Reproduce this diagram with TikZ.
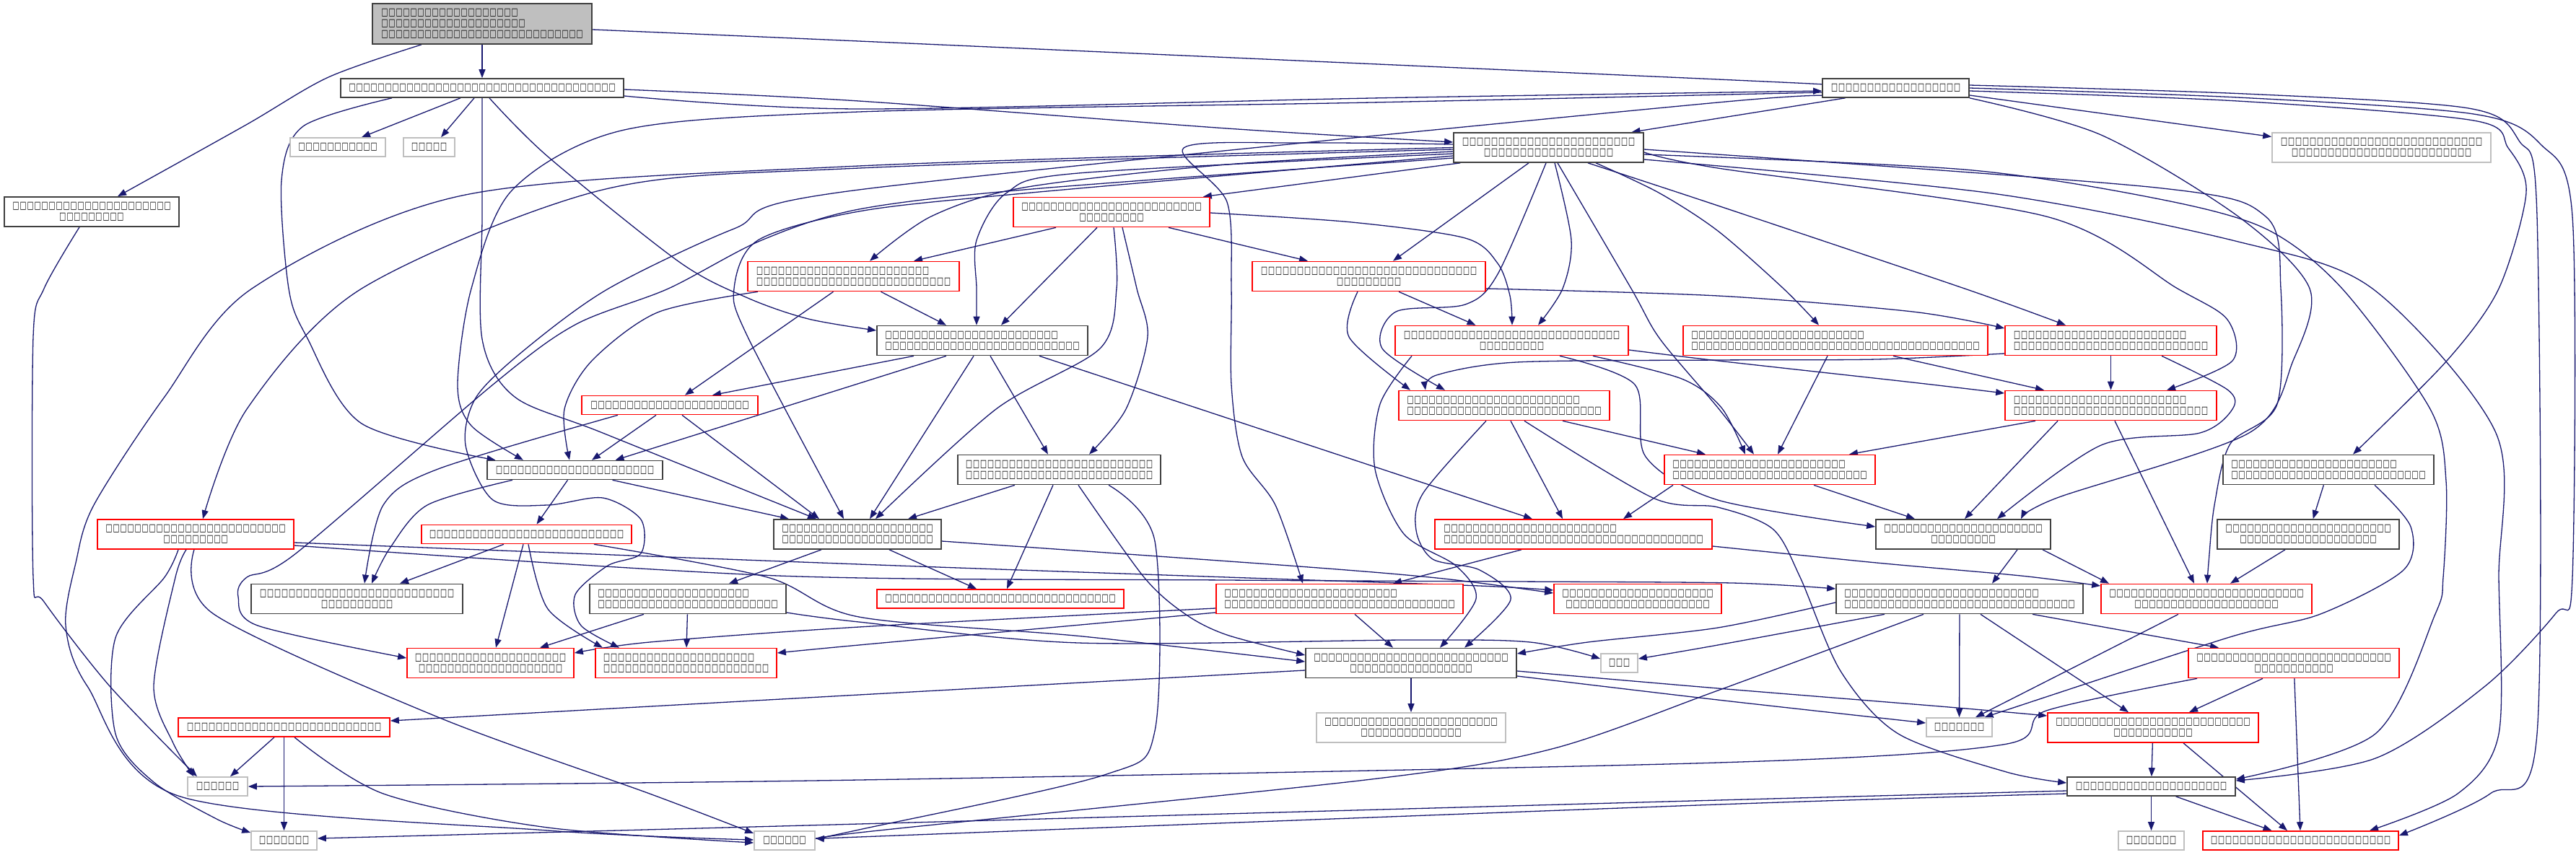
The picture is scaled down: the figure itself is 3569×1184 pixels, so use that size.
\documentclass[tikz,border=0pt]{standalone}
\usepackage{fontspec}
\usepackage{graphicx}
\newfontfamily\dv{DejaVu Sans}
\usetikzlibrary{arrows.meta}
\definecolor{eblue}{HTML}{191970}
\definecolor{gseven}{HTML}{BFBFBF}
\definecolor{gtwo}{HTML}{404040}
\newcommand\tb{\makebox[10pt][c]{\resizebox*{9pt}{11pt}{\dv\bfseries □}}}
\ExplSyntaxOn
\NewDocumentCommand\tofu{m}{\prg_replicate:nn{#1}{\tb}}
\ExplSyntaxOff
\pgfdeclarelayer{bg}
\pgfsetlayers{bg,main}
\tikzset{
 nbase/.style={rectangle, inner sep=0pt, fill=white, line width=1.7pt, font=\fontsize{11}{15}\selectfont},
 nb/.style={nbase, draw=gtwo},
 nr/.style={nbase, draw=red},
 ng/.style={nbase, draw=gseven},
 ntop/.style={nbase, draw=gtwo, fill=gseven},
 edg/.style={draw=eblue, line width=1.3pt, -{Triangle[length=12pt,width=9pt]}},
}
\newcommand\sed[2]{\draw[edg] (#1) -- (#2);}
\newcommand\ped[1]{\draw[edg] plot[smooth,tension=0.5] coordinates {#1};}
\begin{document}
\begin{tikzpicture}[x=1pt,y=-1pt]
\useasboundingbox (0,0) rectangle (3569,1184);
\node[ntop, minimum width=304, minimum height=56, align=left] (N0) at (668,33) {\tofu{19}\\\tofu{20}\\\tofu{28}};
\node[nb, minimum width=392, minimum height=26] (N1) at (668,122) {\tofu{37}};
\node[nb, minimum width=203, minimum height=26] (N2) at (2626.5,122) {\tofu{18}};
\node[nb, minimum width=242, minimum height=41, align=center] (N3) at (127,293.5) {\tofu{22}\\\tofu{9}};
\node[ng, minimum width=132, minimum height=26] (N4) at (468,204) {\tofu{11}};
\node[ng, minimum width=71, minimum height=26] (N5) at (594.5,204) {\tofu{5}};
\node[nb, minimum width=263, minimum height=41, align=center] (N6) at (2145.5,204.5) {\tofu{24}\\\tofu{18}};
\node[ng, minimum width=303, minimum height=41, align=center] (N7) at (3299.5,204.5) {\tofu{28}\\\tofu{25}};
\node[nr, minimum width=272, minimum height=41, align=center] (N8) at (1540,294) {\tofu{25}\\\tofu{9}};
\node[nr, minimum width=293, minimum height=41, align=left] (N9) at (1182.5,383) {\tofu{24}\\\tofu{27}};
\node[nr, minimum width=323, minimum height=41, align=center] (N10) at (1896.5,383) {\tofu{30}\\\tofu{9}};
\node[nb, minimum width=292, minimum height=41, align=left] (N11) at (1361,472) {\tofu{24}\\\tofu{27}};
\node[nr, minimum width=323, minimum height=41, align=center] (N12) at (2094.5,472) {\tofu{30}\\\tofu{9}};
\node[nr, minimum width=422, minimum height=41, align=left] (N13) at (2543,472) {\tofu{24}\\\tofu{40}};
\node[nr, minimum width=293, minimum height=41, align=left] (N14) at (2924.5,472) {\tofu{24}\\\tofu{27}};
\node[nr, minimum width=244, minimum height=26] (N15) at (928,561.5) {\tofu{22}};
\node[nr, minimum width=292, minimum height=41, align=left] (N20) at (2084,562) {\tofu{24}\\\tofu{27}};
\node[nr, minimum width=293, minimum height=41, align=left] (N24) at (2924.5,562) {\tofu{24}\\\tofu{27}};
\node[nb, minimum width=243, minimum height=26] (N16) at (796.5,651.5) {\tofu{22}};
\node[nb, minimum width=281, minimum height=41, align=center] (N21) at (1467.5,651) {\tofu{26}\\\tofu{26}};
\node[nr, minimum width=292, minimum height=41, align=left] (N23) at (2452,651) {\tofu{24}\\\tofu{27}};
\node[nb, minimum width=292, minimum height=41, align=left] (N26) at (3226,651) {\tofu{23}\\\tofu{27}};
\node[nr, minimum width=272, minimum height=41, align=center] (N17) at (271,740.5) {\tofu{25}\\\tofu{9}};
\node[nr, minimum width=291, minimum height=26] (N18) at (729.5,740.5) {\tofu{27}};
\node[nb, minimum width=232, minimum height=41, align=center] (N19) at (1188,740.5) {\tofu{21}\\\tofu{21}};
\node[nr, minimum width=384, minimum height=41, align=left] (N22) at (2180,740.5) {\tofu{24}\\\tofu{36}};
\node[nb, minimum width=242, minimum height=41, align=center] (N25) at (2720,740.5) {\tofu{22}\\\tofu{9}};
\node[nb, minimum width=252, minimum height=41, align=center] (N27) at (3198,740.5) {\tofu{23}\\\tofu{19}};
\node[nb, minimum width=293, minimum height=41, align=center] (N28) at (494.5,830) {\tofu{27}\\\tofu{10}};
\node[nb, minimum width=272, minimum height=41, align=left] (N29) at (953,830) {\tofu{21}\\\tofu{25}};
\node[nr, minimum width=342, minimum height=26] (N36) at (1386,830) {\tofu{32}};
\node[nr, minimum width=342, minimum height=41, align=left] (N37) at (1856,830) {\tofu{24}\\\tofu{32}};
\node[nr, minimum width=232, minimum height=41, align=center] (N38) at (2269,830) {\tofu{21}\\\tofu{20}};
\node[nb, minimum width=342, minimum height=41, align=left] (N42) at (2715,830) {\tofu{27}\\\tofu{32}};
\node[nr, minimum width=292, minimum height=41, align=center] (N43) at (3057,830) {\tofu{27}\\\tofu{20}};
\node[nr, minimum width=231, minimum height=41, align=center] (N30) at (679.5,919) {\tofu{21}\\\tofu{20}};
\node[nr, minimum width=251, minimum height=41, align=left] (N31) at (950.5,919) {\tofu{21}\\\tofu{23}};
\node[nb, minimum width=292, minimum height=41, align=center] (N39) at (1955,919) {\tofu{27}\\\tofu{17}};
\node[ng, minimum width=51, minimum height=26] (N40) at (2243.5,919) {\tofu{3}};
\node[nr, minimum width=292, minimum height=41, align=center] (N44) at (3178,919) {\tofu{27}\\\tofu{11}};
\node[nr, minimum width=293, minimum height=26] (N32) at (393.5,1008) {\tofu{27}};
\node[ng, minimum width=262, minimum height=41, align=center] (N41) at (1955,1008.5) {\tofu{24}\\\tofu{14}};
\node[ng, minimum width=91, minimum height=26] (N45) at (2714.5,1008) {\tofu{7}};
\node[nr, minimum width=292, minimum height=41, align=center] (N46) at (2983,1008.5) {\tofu{27}\\\tofu{11}};
\node[ng, minimum width=83, minimum height=26] (N33) at (301.5,1090) {\tofu{6}};
\node[nb, minimum width=233, minimum height=26] (N47) at (2980.5,1090) {\tofu{21}};
\node[ng, minimum width=91, minimum height=26] (N34) at (393.5,1165) {\tofu{7}};
\node[ng, minimum width=84, minimum height=26] (N35) at (1087,1165) {\tofu{6}};
\node[ng, minimum width=91, minimum height=26] (N48) at (2980.5,1165) {\tofu{7}};
\node[nr, minimum width=271, minimum height=26] (N49) at (3187.5,1165) {\tofu{25}};
\begin{pgfonlayer}{bg}
\fill[white] (0,0) rectangle (3569,1184);
% straight connectors
\sed{N0}{N1}
\sed{[xshift=-30]N1.south}{[xshift=33]N4.north}
\sed{[xshift=-11]N1.south}{[xshift=16.5]N5.north}
\sed{[xshift=-70]N2.south}{[xshift=115]N6.north}
\sed{[yshift=-10]N2.east}{[yshift=15]N7.west}
\sed{[xshift=10]N6.south west}{[xshift=-10]N8.north east}
\sed{[xshift=-27.5]N6.south}{[xshift=33.5]N10.north}
\sed{[xshift=-77]N8.south}{[xshift=83.5]N9.north}
\sed{[xshift=79]N8.south}{[xshift=-84.5]N10.north}
\sed{[xshift=-20]N8.south}{[xshift=26]N11.north}
\sed{[xshift=38]N9.south}{[xshift=-50]N11.north}
\sed{[xshift=-28]N9.south}{[xshift=21]N15.north}
\sed{[xshift=41.5]N10.south}{[xshift=-50]N12.north}
\sed{[xshift=-95]N11.south}{[xshift=59]N15.north}
\sed{[xshift=-50]N11.south}{[xshift=56]N16.north}
\sed{[xshift=-12]N11.south}{[xshift=17]N19.north}
\sed{[xshift=11]N11.south}{[xshift=-15.5]N21.north}
\sed{[xshift=79]N11.south}{[xshift=-57]N22.north}
\sed{[xshift=-11]N13.south}{[xshift=11]N23.north}
\sed{[xshift=80]N13.south}{[xshift=-92.5]N24.north}
\sed{N14}{N24}
\sed{[xshift=-19]N15.south}{[xshift=23.5]N16.north}
\sed{[xshift=17]N15.south}{[xshift=-53]N19.north}
\sed{[xshift=-10]N16.south}{[xshift=14]N18.north}
\sed{[xshift=52]N16.south}{[xshift=-95]N19.north}
\sed{[xshift=-31.5]N18.south}{[xshift=59.5]N28.north}
\sed{[xshift=-4.5]N18.south}{[xshift=7.5]N30.north}
\sed{[xshift=-50]N19.south}{[xshift=57]N29.north}
\sed{[xshift=44]N19.south}{[xshift=-33]N36.north}
\sed{[xshift=-61.5]N21.south}{[xshift=70]N19.north}
\sed{[xshift=-8.5]N21.south}{[xshift=9]N36.north}
\sed{[xshift=9]N20.south}{[xshift=-15]N22.north}
\sed{[xshift=81]N20.south}{[xshift=-89]N23.north}
\sed{[xshift=-134]N23.south}{[xshift=69]N22.north}
\sed{[xshift=61]N23.south}{[xshift=-67]N25.north}
\sed{[xshift=-104.5]N24.south}{[xshift=110]N23.north}
\sed{[xshift=-73.5]N24.south}{[xshift=2]N25.north}
\sed{[xshift=5.5]N24.south}{[xshift=-17]N43.north}
\sed{[xshift=75]N25.south}{[xshift=45]N42.north}
\sed{[xshift=110]N25.south}{[xshift=-135]N43.north}
\sed{N26}{N27}
\sed{[xshift=-32]N27.south}{[xshift=33]N43.north}
\sed{[xshift=-61]N29.south}{[xshift=68.5]N30.north}
\sed{N29}{N31}
\sed{[xshift=21]N37.south}{[xshift=-25]N39.north}
\sed{N39}{N41}
\sed{[xshift=101]N42.south}{[xshift=-104]N44.north}
\sed{N42}{N45}
\sed{[xshift=29]N42.south}{[xshift=-34]N46.north}
\sed{[xshift=-39]N43.south}{[xshift=22.5]N45.north}
\sed{[xshift=-43]N44.south}{[xshift=50]N46.north}
\sed{N44}{N49}
\sed{N46}{N47}
\sed{[xshift=42]N46.south}{[xshift=-18.5]N49.north}
\sed{N47}{N48}
\sed{[xshift=34]N47.south}{[xshift=-40]N49.north}
\sed{[xshift=-13.5]N32.south}{[xshift=17.5]N33.north}
\sed{N32}{N34}
\sed{[xshift=-72]N22.south}{[xshift=74]N37.north}
% curved connectors
\ped{([yshift=-8]N0.east) (1190,57) (2380,110) ([yshift=5]N2.west)}
\ped{([xshift=-84]N0.south) (455,107) (341,173) ([xshift=36]N3.north)}
\ped{([yshift=-2]N1.east) (1190,140) (1700,178) ([yshift=7.5]N6.west)}
\ped{([yshift=-11]N1.east) (1190,151) (1900,136) ([yshift=-4]N2.west)}
\ped{([xshift=-125]N1.south) (420,175) (390,250) (400,400) (425,467) (501,587) ([xshift=-110]N16.north)}
\ped{(N1.south) (668,300) (668,470) (713,550) (835,600) ([xshift=-57]N19.north)}
\ped{([xshift=10]N1.south) (759,217) (941,363) (1036,413) (1120,442) ([yshift=14]N11.west)}
\ped{([yshift=-6]N2.west) (1900,142) (1190,155) (865,180) (710,263) (653,400) (634,533) (653,590) ([xshift=-71.5]N16.north)}
\ped{([xshift=-76.5]N2.south) (2380,142) (1190,263) (1017,317) (843,400) (729,483) (660,550) (645,617) (683,693) (759,700) (835,690) (888,720) (888,767) (842,784) (797,824) (805,867) ([xshift=-92.5]N31.north)}
\ped{([yshift=-4]N2.east) (3100,140) (3427,167) (3475,205) (3500,267) (3462,400) (3390,500) ([xshift=34]N26.north)}
\ped{(N2.east) (3100,135) (3427,158) (3520,200) (3564,300) (3564,800) (3541,850) (3443,951) (3291,1051) ([yshift=8]N47.east)}
\ped{([yshift=4]N2.east) (3110,130) (3420,150) (3490,195) (3515,300) (3515,1017) (3450,1100) ([yshift=7]N49.east)}
\ped{(N2.south east) (2911,187) (3101,300) (3200,400) (3177,500) (3116,600) (2850,690) ([xshift=80]N25.north)}
\ped{([xshift=-17]N3.south) (61,400) (46,467) (46,800) (61,834) (152,951) ([xshift=-28.5]N33.north)}
\ped{([yshift=-5.5]N6.west) (1700,228) (1418,260) (1290,300) ([xshift=22.5]N9.north)}
\ped{([yshift=-8.5]N6.west) (1494,240) (1395,267) (1353,333) (1353,400) ([xshift=-8]N11.north)}
\ped{([xshift=8.5]N6.south) (2177,333) (2165,400) ([xshift=36.5]N12.north)}
\ped{([xshift=65.5]N6.south) (2298,267) (2380,320) (2471,400) ([xshift=-23]N13.north)}
\ped{([xshift=54.5]N6.south) (2380,285) (2722,400) ([xshift=-62.5]N14.north)}
\ped{([yshift=-2.5]N6.west) (1190,233) (835,263) (501,400) (342,567) ([xshift=10]N17.north)}
\ped{([yshift=-11.5]N6.west) (1418,268) (1190,293) (1050,333) (1017,400) (1036,467) ([xshift=-19]N19.north)}
\ped{([xshift=-3.5]N6.south) (2075,380) (2030,422) (1934,432) (1915,483) ([xshift=-82]N20.north)}
\ped{([xshift=12.5]N6.south) (2260,400) (2300,470) (2380,565) ([xshift=-22]N23.north)}
\ped{([yshift=-6.5]N6.east) (2380,233) (2835,300) (3017,400) (3086,443) (3093,500) ([xshift=77.5]N24.north)}
\ped{([yshift=-14.5]N6.west) (1430,262) (1190,290) (1055,333) (926,400) (797,450) (683,533) (410,767) (342,800) (330,827) (357,867) ([yshift=7]N30.west)}
\ped{(N6.west) (1190,230) (645,270) (349,400) (228,550) (130,700) (105,780) (91,867) (121,951) (250,1104) (759,1151) ([yshift=1]N35.west)}
\ped{([yshift=4.5]N6.west) (1800,198) (1640,205) (1700,280) (1706,400) (1706,533) (1721,633) (1767,700) ([xshift=-51]N37.north)}
\ped{([yshift=-2.5]N6.east) (2987,260) (3139,300) (3160,400) (3155,560) (3090,615) (3068,700) (3060,780) ([xshift=1]N43.north)}
\ped{([yshift=-9.5]N6.east) (2722,235) (2987,275) (3139,317) (3245,400) (3367,567) (3389,667) (3385,800) (3374,851) (3291,1017) ([yshift=10]N47.east)}
\ped{([yshift=-16.5]N6.east) (2760,268) (3101,335) (3287,400) (3458,600) (3462,800) (3462,1017) (3405,1100) ([xshift=95.5]N49.north)}
\ped{([yshift=-1]N8.east) (1873,308) (2030,330) (2075,365) (2092,410) ([xshift=0.5]N12.north)}
\ped{([xshift=3]N8.south) (1547,400) (1524,483) (1380,567) ([xshift=25]N19.north)}
\ped{([xshift=15]N8.south) (1575,400) (1590,467) (1560,567) ([xshift=41.5]N21.north)}
\ped{([xshift=-132.5]N9.south) (911,433) (820,500) (782,567) ([xshift=-7.5]N16.north)}
\ped{([yshift=-17]N10.east) (2380,410) (2650,432) ([yshift=17]N14.west)}
\ped{([xshift=-15.5]N10.south) (1869,467) ([xshift=-130]N20.north)}
\ped{([xshift=112.5]N12.south) (2330,525) (2385,565) ([xshift=-34]N23.north)}
\ped{([yshift=-13]N12.east) (2380,500) (2650,530) ([yshift=17]N24.west)}
\ped{([xshift=66.5]N12.south) (2265,533) (2280,633) (2380,693) ([yshift=10.5]N25.west)}
\ped{([xshift=-138.5]N12.south) (1912,560) (1905,650) (1945,740) (2017,784) (2045,830) ([xshift=40]N39.north)}
\ped{([xshift=70.5]N14.south) (3086,540) (3093,567) (3048,600) (2911,617) ([xshift=47]N25.north)}
\ped{([yshift=-18]N14.west) (2600,498) (2380,499) (2101,502) (1990,520) ([xshift=-109]N20.north)}
\ped{([xshift=-72]N15.south) (607,650) (531,700) ([xshift=10.5]N28.north)}
\ped{([xshift=-86.5]N16.south) (592,700) (540,760) ([xshift=20.5]N28.north)}
\ped{([xshift=-13]N17.south) (243,800) (213,951) (240,1030) ([xshift=-33]N33.north)}
\ped{([xshift=-24]N17.south) (228,800) (160,884) (160,1017) (213,1084) (300,1135) ([yshift=11]N34.west)}
\ped{([xshift=-2]N17.south) (296,851) (607,994) (900,1100) ([yshift=10]N35.west)}
\ped{([yshift=-11.5]N17.east) (1190,782) (1700,800) (2050,812) ([yshift=12]N38.west)}
\ped{([yshift=-15.5]N17.east) (1078,798) (1700,804) (2100,806) (2400,808) ([yshift=14]N42.west)}
\ped{([xshift=2.5]N18.south) (759,844) ([xshift=-115.5]N31.north)}
\ped{([xshift=93.5]N18.south) (1063,800) (1190,855) (1500,882) ([yshift=2]N39.west)}
\ped{([yshift=-9.5]N19.east) (1800,785) (2000,802) ([yshift=8]N38.west)}
\ped{([xshift=-25]N20.south) (1972,683) (1962,735) (1985,775) (2050,790) (2093,831) ([xshift=74]N39.north)}
\ped{([xshift=28]N20.south) (2290,690) (2380,703) (2456,733) (2494,800) (2550,930) (2630,1017) (2780,1070) ([yshift=5]N47.west)}
\ped{([xshift=68.5]N21.south) (1600,750) (1600,1013) (1530,1074) (1190,1150) ([yshift=3]N35.east)}
\ped{([xshift=26.5]N21.south) (1585,800) (1642,851) (1700,880) ([yshift=11]N39.west)}
\ped{([yshift=-16.5]N22.east) (2600,780) (2800,798) ([yshift=18]N43.west)}
\ped{([xshift=64]N26.south) (3340,730) (3330,790) (3215,851) (3086,884) ([xshift=35]N45.north)}
\ped{([yshift=-19]N29.east) (1190,862) (1494,891) (1949,887) (2120,890) ([yshift=6]N40.west)}
\ped{([yshift=-13]N37.west) (1190,869) (900,890) ([yshift=14]N30.east)}
\ped{([yshift=-19]N37.west) (1190,894) ([yshift=14]N31.east)}
\ped{([yshift=-10]N39.west) (1190,963) ([yshift=9]N32.east)}
\ped{([yshift=-18]N39.east) (2380,970) ([yshift=6]N45.west)}
\ped{([yshift=-11]N39.east) (2380,954) (2700,980) ([yshift=16.5]N46.west)}
\ped{([yshift=-5]N42.west) (2380,870) (2200,890) ([yshift=13]N39.east)}
\ped{([xshift=-104]N42.south) (2380,894) ([yshift=6]N40.east)}
\ped{([xshift=-50]N42.south) (2380,957) (2150,1038) (1900,1080) (1190,1154) ([yshift=-2]N35.east)}
\ped{([xshift=-134]N44.south) (2835,985) (2775,1032) (2380,1057) (1190,1081) (N33.east)}
\ped{([yshift=-6]N47.west) (2380,1109) (1190,1142) ([yshift=3]N34.east)}
\ped{([yshift=-10]N47.west) (2380,1115) (1190,1160) ([yshift=2]N35.east)}
\ped{([xshift=14.5]N32.south) (531,1100) (759,1147) ([yshift=-3]N35.west)}
\end{pgfonlayer}
\end{tikzpicture}
\end{document}
